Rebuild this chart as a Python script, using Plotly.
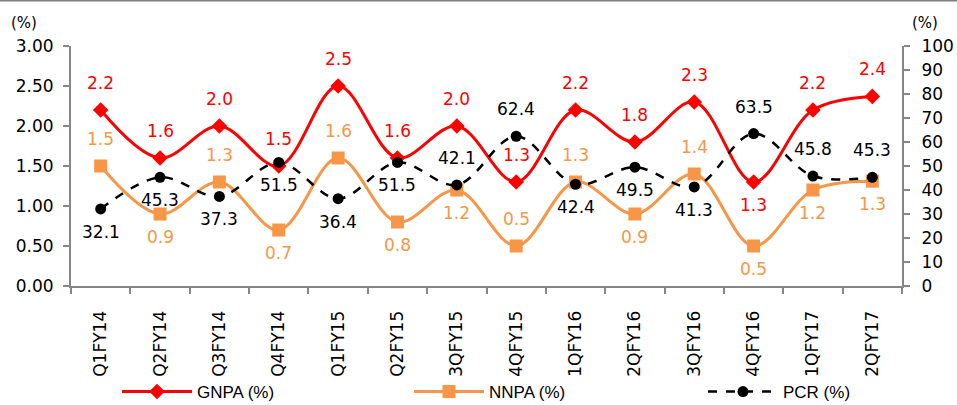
import plotly.graph_objects as go

categories = ["Q1FY14", "Q2FY14", "Q3FY14", "Q4FY14", "Q1FY15", "Q2FY15", "3QFY15",
              "4QFY15", "1QFY16", "2QFY16", "3QFY16", "4QFY16", "1QFY17", "2QFY17"]
gnpa = [2.2, 1.6, 2.0, 1.5, 2.5, 1.6, 2.0, 1.3, 2.2, 1.8, 2.3, 1.3, 2.2, 2.37]
nnpa = [1.5, 0.9, 1.3, 0.7, 1.6, 0.8, 1.2, 0.5, 1.3, 0.9, 1.4, 0.5, 1.2, 1.31]
pcr = [32.1, 45.3, 37.3, 51.5, 36.4, 51.5, 42.1, 62.4, 42.4, 49.5, 41.3, 63.5, 45.8, 45.3]

# label placement: 'a' = above the point, 'b' = below
gnpa_pos = ["a", "a", "a", "a", "a", "a", "a", "a", "a", "a", "a", "b", "a", "a"]
nnpa_pos = ["a", "b", "a", "b", "a", "b", "b", "a", "a", "b", "a", "b", "b", "b"]
pcr_pos = ["b", "b", "b", "b", "b", "b", "a", "a", "b", "b", "b", "a", "a", "a"]

left_ticks = [0, 0.5, 1.0, 1.5, 2.0, 2.5, 3.0]
right_ticks = [0, 10, 20, 30, 40, 50, 60, 70, 80, 90, 100]

RED = "#FF0000"
ORANGE = "#F79646"
BLACK = "#000000"
GREY = "#868686"
FONT = "DejaVu Sans"

fig = go.Figure()
fig.add_trace(go.Scatter(
    x=categories, y=gnpa, name="GNPA (%)", mode="lines+markers", legend="legend",
    line=dict(color=RED, width=3, shape="spline", smoothing=1.0),
    marker=dict(symbol="diamond", size=12, color=RED),
))
fig.add_trace(go.Scatter(
    x=categories, y=nnpa, name="NNPA (%)", mode="lines+markers", legend="legend2",
    line=dict(color=ORANGE, width=3, shape="spline", smoothing=1.0),
    marker=dict(symbol="square", size=13, color=ORANGE),
))
fig.add_trace(go.Scatter(
    x=categories, y=pcr, name="PCR (%)", mode="lines+markers", yaxis="y2", legend="legend3",
    line=dict(color=BLACK, width=2.5, dash="dash", shape="spline", smoothing=1.0),
    marker=dict(symbol="circle", size=11, color=BLACK),
))

annotations = []
def add_labels(values, positions, color, yref, fmt):
    for c, v, p in zip(categories, values, positions):
        annotations.append(dict(
            x=c, y=v, xref="x", yref=yref, text=fmt.format(v), showarrow=False,
            yshift=27 if p == "a" else -23,
            font=dict(family=FONT, size=17, color=color),
        ))

add_labels(gnpa, gnpa_pos, RED, "y", "{:.1f}")
add_labels(nnpa, nnpa_pos, ORANGE, "y", "{:.1f}")
add_labels(pcr, pcr_pos, BLACK, "y2", "{:.1f}")

annotations.append(dict(x=0, y=1, xref="paper", yref="paper", text="(%)", showarrow=False,
                        xanchor="center", yanchor="middle", xshift=-47, yshift=23,
                        font=dict(family=FONT, size=15, color=BLACK)))
annotations.append(dict(x=1, y=1, xref="paper", yref="paper", text="(%)", showarrow=False,
                        xanchor="center", yanchor="middle", xshift=23, yshift=23,
                        font=dict(family=FONT, size=15, color=BLACK)))

legend_common = dict(orientation="h", xanchor="left", xref="container", yref="container",
                     y=1 - 392 / 405, yanchor="middle", tracegroupgap=0,
                     itemwidth=70, font=dict(family="Liberation Sans", size=17, color=BLACK),
                     bgcolor="rgba(0,0,0,0)")

fig.update_layout(
    width=957, height=405,
    margin=dict(l=71, r=55, t=46, b=119, autoexpand=False),
    paper_bgcolor="white", plot_bgcolor="white",
    font=dict(family=FONT, size=17, color=BLACK),
    showlegend=True,
    legend=dict(x=117 / 957, **legend_common),
    legend2=dict(x=409 / 957, **legend_common),
    legend3=dict(x=703 / 957, **legend_common),
    xaxis=dict(
        type="category", showgrid=False, showline=True, linecolor=GREY, linewidth=2,
        ticks="outside", tickson="boundaries", ticklen=6, tickcolor=GREY, tickwidth=1.5,
        tickangle=-90, tickfont=dict(family=FONT, size=17), ticklabelstandoff=16,
        range=[-0.5, len(categories) - 0.5], automargin=False,
    ),
    yaxis=dict(
        range=[0, 3.0], tickvals=left_ticks, tickformat=".2f", showgrid=False,
        showline=True, linecolor=GREY, linewidth=2, ticks="outside", ticklen=6,
        tickcolor=GREY, tickwidth=1.5, zeroline=False, tickfont=dict(family=FONT, size=17),
        ticklabelstandoff=6, automargin=False,
    ),
    yaxis2=dict(
        range=[0, 100], tickvals=right_ticks, overlaying="y", side="right", showgrid=False,
        showline=True, linecolor=GREY, linewidth=2, ticks="outside", ticklen=6,
        tickcolor=GREY, tickwidth=1.5, zeroline=False, tickfont=dict(family=FONT, size=17),
        ticklabelstandoff=8, automargin=False,
    ),
    annotations=annotations,
    shapes=[dict(type="line", xref="paper", yref="paper",
                 x0=-71 / 831, x1=1 + 55 / 831, y0=1 + 46 / 240, y1=1 + 46 / 240,
                 line=dict(color="#7F7F7F", width=3))],
)

fig.write_html("out.html")
